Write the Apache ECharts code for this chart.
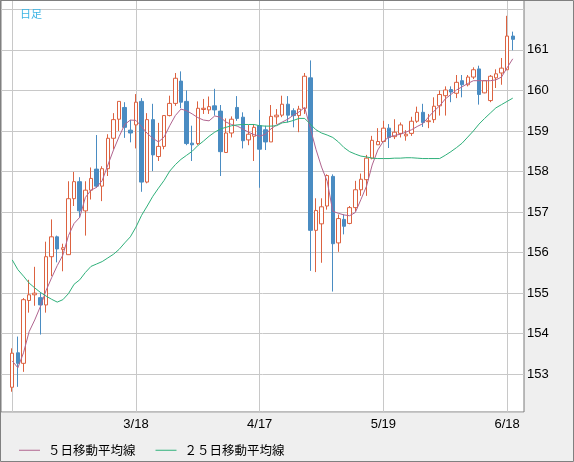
<!DOCTYPE html>
<html>
<head>
<meta charset="utf-8">
<script src="https://cdn.jsdelivr.net/npm/echarts@6/dist/echarts.min.js"></script>
<style>
  html, body { margin: 0; padding: 0; background: #efefef; }
  #chart { width: 574px; height: 462px; }
</style>
</head>
<body>
<div id="chart"></div>
<script>
// trading days shown on the chart
var dates = [
  '2/14', '2/17', '2/18', '2/19', '2/20', '2/21', '2/24', '2/25', '2/26', '2/27', '2/28',
  '3/3', '3/4', '3/5', '3/6', '3/7', '3/10', '3/11', '3/12', '3/13', '3/14',
  '3/17', '3/18', '3/19', '3/20', '3/21', '3/24', '3/25', '3/26', '3/27', '3/28', '3/31',
  '4/1', '4/2', '4/3', '4/4', '4/7', '4/8', '4/9', '4/10', '4/11',
  '4/14', '4/15', '4/16', '4/17', '4/18', '4/21', '4/22', '4/23', '4/24', '4/25',
  '4/28', '4/29', '4/30', '5/1', '5/2', '5/5', '5/6', '5/7', '5/8', '5/9',
  '5/12', '5/13', '5/14', '5/15', '5/16', '5/19', '5/20', '5/21', '5/22', '5/23',
  '5/26', '5/27', '5/28', '5/29', '5/30', '6/2', '6/3', '6/4', '6/5', '6/6',
  '6/9', '6/10', '6/11', '6/12', '6/13', '6/16', '6/17', '6/18', '6/19'
];
var tickLabels = ['3/18', '4/17', '5/19', '6/18'];

var opens = [
  152.68, 153.53, 153.27, 154.82, 154.96, 154.89, 154.71, 155.90, 156.39, 156.08,
  155.95, 157.33, 157.75, 157.03, 157.54, 158.06, 157.64, 158.07, 158.82, 159.29,
  159.58, 159.02, 159.15, 159.73, 157.74, 159.28, 158.37, 158.62, 159.38, 159.68,
  160.23, 159.73, 158.70, 158.69, 159.53, 159.52, 159.62, 159.49, 158.47, 158.95,
  159.58, 159.34, 158.78, 158.87, 159.13, 159.03, 158.73, 159.35, 159.39, 159.66,
  159.50, 159.38, 159.56, 160.31, 156.55, 156.71, 157.15, 157.88, 156.24, 156.82,
  156.72, 157.11, 157.55, 157.80, 158.33, 158.66, 158.74, 159.07, 158.86, 158.94,
  158.88, 158.94, 159.24, 159.46, 159.23, 159.28, 159.62, 159.87, 160.02, 159.93,
  160.24, 160.14, 160.33, 160.53, 159.94, 159.75, 160.31, 160.43, 160.51, 161.34
];
var closes = [
  153.52, 153.27, 154.84, 154.96, 155.00, 154.71, 155.90, 156.39, 156.09, 156.12,
  157.33, 157.75, 157.03, 157.54, 157.83, 157.64, 158.07, 158.82, 159.28, 159.73,
  159.09, 158.95, 159.71, 157.74, 159.28, 158.41, 158.62, 159.38, 159.68, 160.30,
  159.71, 158.69, 158.66, 159.56, 159.56, 159.60, 159.52, 158.49, 158.95, 159.29,
  159.31, 158.76, 158.92, 159.09, 158.55, 158.73, 159.36, 159.39, 159.66, 159.39,
  159.38, 159.54, 160.35, 156.55, 157.04, 157.13, 157.90, 156.22, 156.84, 156.65,
  157.11, 157.55, 157.81, 158.33, 158.77, 158.74, 159.07, 158.84, 158.97, 159.15,
  158.92, 159.24, 159.46, 159.21, 159.25, 159.61, 159.90, 160.01, 159.96, 160.20,
  160.14, 160.33, 160.51, 159.90, 160.24, 160.35, 160.41, 160.55, 161.34, 161.26
];
var lows = [
  152.57, 152.69, 153.06, 154.52, 154.69, 153.98, 154.52, 155.42, 155.76, 155.54,
  155.95, 157.15, 156.86, 156.42, 157.31, 157.60, 157.27, 157.89, 158.55, 159.00,
  158.83, 158.72, 158.57, 157.50, 157.71, 158.01, 158.26, 158.55, 159.36, 159.62,
  159.56, 158.65, 158.26, 158.65, 159.42, 159.42, 159.38, 157.89, 158.47, 158.84,
  159.25, 158.57, 158.65, 158.26, 157.60, 158.53, 158.73, 159.17, 159.34, 159.21,
  159.09, 158.97, 159.42, 155.55, 155.52, 155.75, 157.06, 155.04, 156.02, 156.45,
  156.70, 157.02, 157.40, 157.40, 158.30, 158.66, 158.74, 158.58, 158.80, 158.84,
  158.76, 158.88, 159.20, 159.10, 159.07, 159.20, 159.38, 159.38, 159.71, 159.81,
  159.83, 160.10, 160.28, 159.65, 159.93, 159.71, 160.06, 160.14, 160.50, 160.99
];
var highs = [
  153.64, 153.93, 154.88, 155.33, 155.65, 155.02, 156.27, 156.82, 156.42, 156.22,
  157.76, 157.99, 157.86, 157.76, 158.10, 158.90, 158.13, 158.92, 159.44, 159.73,
  159.71, 159.27, 159.91, 159.81, 159.44, 159.67, 159.20, 159.39, 159.87, 160.43,
  160.47, 160.00, 159.13, 159.73, 159.79, 159.85, 160.04, 159.64, 159.31, 159.36,
  159.86, 159.46, 159.15, 159.17, 159.52, 159.13, 159.64, 159.54, 159.87, 159.86,
  159.56, 159.62, 160.43, 160.74, 157.34, 157.34, 157.93, 157.93, 156.94, 156.94,
  157.15, 157.77, 157.95, 158.41, 158.88, 159.07, 159.25, 159.17, 159.29, 159.21,
  159.02, 159.35, 159.60, 159.67, 159.42, 159.83, 160.00, 160.10, 160.10, 160.38,
  160.38, 160.38, 160.57, 160.61, 160.24, 160.38, 160.52, 160.80, 161.84, 161.45
];
var ma5 = [
  153.33, 153.16, 153.53, 154.05, 154.34, 154.67, 155.06, 155.38, 155.68, 155.94,
  156.42, 156.72, 156.87, 157.36, 157.54, 157.61, 157.78, 158.16, 158.53, 158.86,
  159.16, 159.27, 159.26, 159.11, 158.94, 158.82, 158.73, 158.85, 159.13, 159.38,
  159.54, 159.50, 159.42, 159.33, 159.27, 159.25, 159.37, 159.34, 159.22, 159.16,
  159.12, 159.05, 158.97, 158.91, 158.87, 158.92, 159.05, 159.15, 159.22, 159.29,
  159.39, 159.47, 159.58, 159.07, 158.55, 158.11, 157.76, 157.02, 156.97, 156.93,
  156.91, 156.99, 157.31, 157.64, 158.16, 158.53, 158.75, 158.85, 158.89, 158.92,
  158.97, 159.03, 159.11, 159.18, 159.34, 159.49, 159.62, 159.79, 159.90, 160.01,
  160.09, 160.17, 160.24, 160.24, 160.24, 160.24, 160.26, 160.33, 160.56, 160.78
];
var ma25 = [
  155.82, 155.58, 155.42, 155.25, 155.13, 155.02, 154.93, 154.85, 154.78, 154.84,
  154.99, 155.22, 155.33, 155.51, 155.66, 155.72, 155.78, 155.87, 155.96, 156.08,
  156.24, 156.39, 156.63, 156.92, 157.15, 157.39, 157.59, 157.78, 158.01, 158.17,
  158.30, 158.40, 158.50, 158.64, 158.75, 158.87, 158.97, 159.05, 159.09, 159.13,
  159.15, 159.16, 159.16, 159.16, 159.13, 159.12, 159.12, 159.13, 159.20, 159.22,
  159.26, 159.31, 159.31, 159.17, 159.03, 158.95, 158.90, 158.84, 158.73, 158.59,
  158.49, 158.43, 158.38, 158.36, 158.33, 158.32, 158.32, 158.32, 158.33, 158.33,
  158.34, 158.34, 158.33, 158.32, 158.32, 158.32, 158.32, 158.40, 158.49, 158.59,
  158.70, 158.85, 159.00, 159.17, 159.31, 159.44, 159.57, 159.65, 159.73, 159.81
];

// two empty slots on each side, like the original chart leaves room at the edges
var PAD_L = 2, PAD_R = 2;
var cats = [], kdata = [], ma5data = [], ma25data = [];
for (var p = 0; p < PAD_L; p++) { cats.push('L' + p); kdata.push('-'); ma5data.push('-'); ma25data.push('-'); }
for (var i = 0; i < dates.length; i++) {
  cats.push(dates[i]);
  kdata.push([opens[i], closes[i], lows[i], highs[i]]);
  ma5data.push(ma5[i]);
  ma25data.push(ma25[i]);
}
for (var q = 0; q < PAD_R; q++) { cats.push('R' + q); kdata.push('-'); ma5data.push('-'); ma25data.push('-'); }

var UP = '#dc6240', DOWN = '#4a8cc2';
var numFont = 'Liberation Sans';
var jpFont = 'Noto Sans CJK JP';

var chart = echarts.init(document.getElementById('chart'), null, { renderer: 'canvas' });
chart.setOption({
  backgroundColor: '#efefef',
  animation: false,
  title: {
    text: '日足',
    left: 15,
    top: 3,
    textStyle: { color: '#3cb4e4', fontSize: 11, fontWeight: 'normal', fontFamily: jpFont }
  },
  legend: {
    left: 14,
    top: 439,
    icon: 'rect',
    itemWidth: 21,
    itemHeight: 1,
    itemGap: 20,
    textStyle: { color: '#000', fontSize: 12.5, fontFamily: jpFont, padding: [0, 0, 0, 3] },
    data: ['５日移動平均線', '２５日移動平均線']
  },
  graphic: [{
    type: 'rect',
    shape: { x: 0.5, y: 0.5, width: 573, height: 461 },
    style: { fill: null, stroke: '#808080', lineWidth: 1 },
    z: 100
  }],
  grid: {
    show: true,
    left: 1,
    top: 0,
    right: 50,
    bottom: 50,
    backgroundColor: '#fff',
    borderColor: '#7a7a7a',
    borderWidth: 1
  },
  xAxis: {
    type: 'category',
    data: cats,
    boundaryGap: false,
    axisLine: { show: false },
    axisTick: { show: false },
    axisLabel: {
      color: '#000',
      fontSize: 13,
      fontFamily: numFont,
      margin: 6,
      interval: function (idx, val) { return tickLabels.indexOf(val) >= 0; }
    },
    splitLine: {
      show: true,
      lineStyle: { color: '#c8c8c8', width: 1 },
      interval: function (idx) { return idx >= PAD_L && (idx - PAD_L) % 22 === 0 && idx < PAD_L + dates.length; }
    }
  },
  yAxis: {
    type: 'value',
    position: 'right',
    scale: true,
    min: 152.07,
    max: 162.23,
    minInterval: 1,
    maxInterval: 1,
    axisLine: { show: false },
    axisTick: { show: false },
    axisLabel: {
      color: '#000',
      fontSize: 13,
      fontFamily: numFont,
      margin: 3,
      showMinLabel: false,
      showMaxLabel: false,
      formatter: function (v) { return (v >= 153 && v <= 161 && Math.abs(v - Math.round(v)) < 1e-6) ? String(Math.round(v)) : ''; }
    },
    splitLine: { show: true, lineStyle: { color: '#c8c8c8', width: 1 } }
  },
  series: [
    {
      type: 'candlestick',
      name: '日足',
      data: kdata,
      barWidth: 4,
      itemStyle: {
        color: '#fff',
        color0: DOWN,
        borderColor: UP,
        borderColor0: DOWN,
        borderWidth: 1
      },
      z: 2
    },
    {
      type: 'line',
      name: '５日移動平均線',
      data: ma5data,
      showSymbol: false,
      symbol: 'none',
      lineStyle: { color: '#b0648f', width: 1 },
      itemStyle: { color: '#b0648f' },
      z: 3
    },
    {
      type: 'line',
      name: '２５日移動平均線',
      data: ma25data,
      showSymbol: false,
      symbol: 'none',
      lineStyle: { color: '#2fb07a', width: 1 },
      itemStyle: { color: '#2fb07a' },
      z: 3
    }
  ]
});
</script>
</body>
</html>
